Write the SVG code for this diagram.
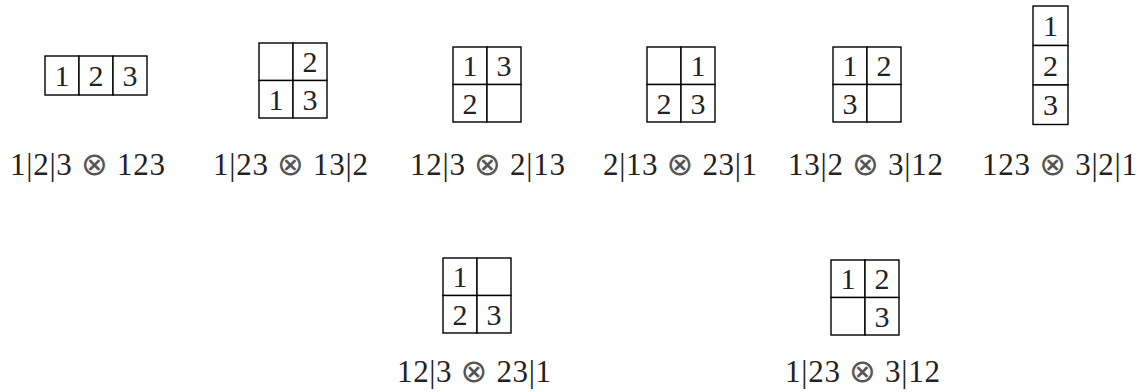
<svg xmlns="http://www.w3.org/2000/svg" width="1144" height="392" viewBox="0 0 1144 392">
<style>
.c{fill:#fff;stroke:#000;stroke-width:1.4}
.d{font-family:"Liberation Serif","DejaVu Serif",serif;font-size:30px;fill:#222;text-anchor:middle}
.l{font-family:"Liberation Serif","DejaVu Serif",serif;font-size:31px;fill:#222;text-anchor:middle}
.o{font-family:"DejaVu Sans","Noto Sans",sans-serif;font-size:32px;fill:#555}
</style>
<rect width="1144" height="392" fill="#fff"/>
<g id="t1">
<rect class="c" x="45" y="56" width="34" height="39"/><rect class="c" x="79" y="56" width="34" height="39"/><rect class="c" x="113" y="56" width="34" height="39"/>
<text class="d" x="62" y="86">1</text><text class="d" x="96" y="86">2</text><text class="d" x="130" y="86">3</text>
<text class="l" x="87.5" y="175" textLength="155" lengthAdjust="spacing">1|2|3 <tspan class="o">⊗</tspan> 123</text>
</g>
<g id="t2">
<rect class="c" x="259" y="43" width="34" height="37.5"/><rect class="c" x="293" y="43" width="34" height="37.5"/>
<rect class="c" x="259" y="80.5" width="34" height="37.5"/><rect class="c" x="293" y="80.5" width="34" height="37.5"/>
<text class="d" x="310" y="72">2</text><text class="d" x="276" y="109.5">1</text><text class="d" x="310" y="109.5">3</text>
<text class="l" x="290.5" y="175" textLength="155" lengthAdjust="spacing">1|23 <tspan class="o">⊗</tspan> 13|2</text>
</g>
<g id="t3">
<rect class="c" x="453" y="47" width="34" height="37.5"/><rect class="c" x="487" y="47" width="34" height="37.5"/>
<rect class="c" x="453" y="84.5" width="34" height="37.5"/><rect class="c" x="487" y="84.5" width="34" height="37.5"/>
<text class="d" x="470" y="76">1</text><text class="d" x="504" y="76">3</text><text class="d" x="470" y="113.5">2</text>
<text class="l" x="487.5" y="175" textLength="155" lengthAdjust="spacing">12|3 <tspan class="o">⊗</tspan> 2|13</text>
</g>
<g id="t4">
<rect class="c" x="647" y="47" width="34" height="37.5"/><rect class="c" x="681" y="47" width="34" height="37.5"/>
<rect class="c" x="647" y="84.5" width="34" height="37.5"/><rect class="c" x="681" y="84.5" width="34" height="37.5"/>
<text class="d" x="698" y="76">1</text><text class="d" x="664" y="113.5">2</text><text class="d" x="698" y="113.5">3</text>
<text class="l" x="680" y="175" textLength="154" lengthAdjust="spacing">2|13 <tspan class="o">⊗</tspan> 23|1</text>
</g>
<g id="t5">
<rect class="c" x="833" y="47" width="34" height="37.5"/><rect class="c" x="867" y="47" width="34" height="37.5"/>
<rect class="c" x="833" y="84.5" width="34" height="37.5"/><rect class="c" x="867" y="84.5" width="34" height="37.5"/>
<text class="d" x="850" y="76">1</text><text class="d" x="884" y="76">2</text><text class="d" x="850" y="113.5">3</text>
<text class="l" x="865.5" y="175" textLength="155" lengthAdjust="spacing">13|2 <tspan class="o">⊗</tspan> 3|12</text>
</g>
<g id="t6">
<rect class="c" x="1033" y="6" width="35" height="39.5"/><rect class="c" x="1033" y="45.5" width="35" height="39.5"/><rect class="c" x="1033" y="85" width="35" height="39.5"/>
<text class="d" x="1050.5" y="36">1</text><text class="d" x="1050.5" y="75.5">2</text><text class="d" x="1050.5" y="115">3</text>
<text class="l" x="1059.5" y="175" textLength="155" lengthAdjust="spacing">123 <tspan class="o">⊗</tspan> 3|2|1</text>
</g>
<g id="t7">
<rect class="c" x="443" y="258" width="34" height="37.5"/><rect class="c" x="477" y="258" width="34" height="37.5"/>
<rect class="c" x="443" y="295.5" width="34" height="37.5"/><rect class="c" x="477" y="295.5" width="34" height="37.5"/>
<text class="d" x="460" y="287">1</text><text class="d" x="460" y="324.5">2</text><text class="d" x="494" y="324.5">3</text>
<text class="l" x="474" y="382" textLength="154" lengthAdjust="spacing">12|3 <tspan class="o">⊗</tspan> 23|1</text>
</g>
<g id="t8">
<rect class="c" x="831" y="260" width="34" height="37.5"/><rect class="c" x="865" y="260" width="34" height="37.5"/>
<rect class="c" x="831" y="297.5" width="34" height="37.5"/><rect class="c" x="865" y="297.5" width="34" height="37.5"/>
<text class="d" x="848" y="289">1</text><text class="d" x="882" y="289">2</text><text class="d" x="882" y="326.5">3</text>
<text class="l" x="862.5" y="382" textLength="155" lengthAdjust="spacing">1|23 <tspan class="o">⊗</tspan> 3|12</text>
</g>
<g id="connectors"></g>
</svg>
